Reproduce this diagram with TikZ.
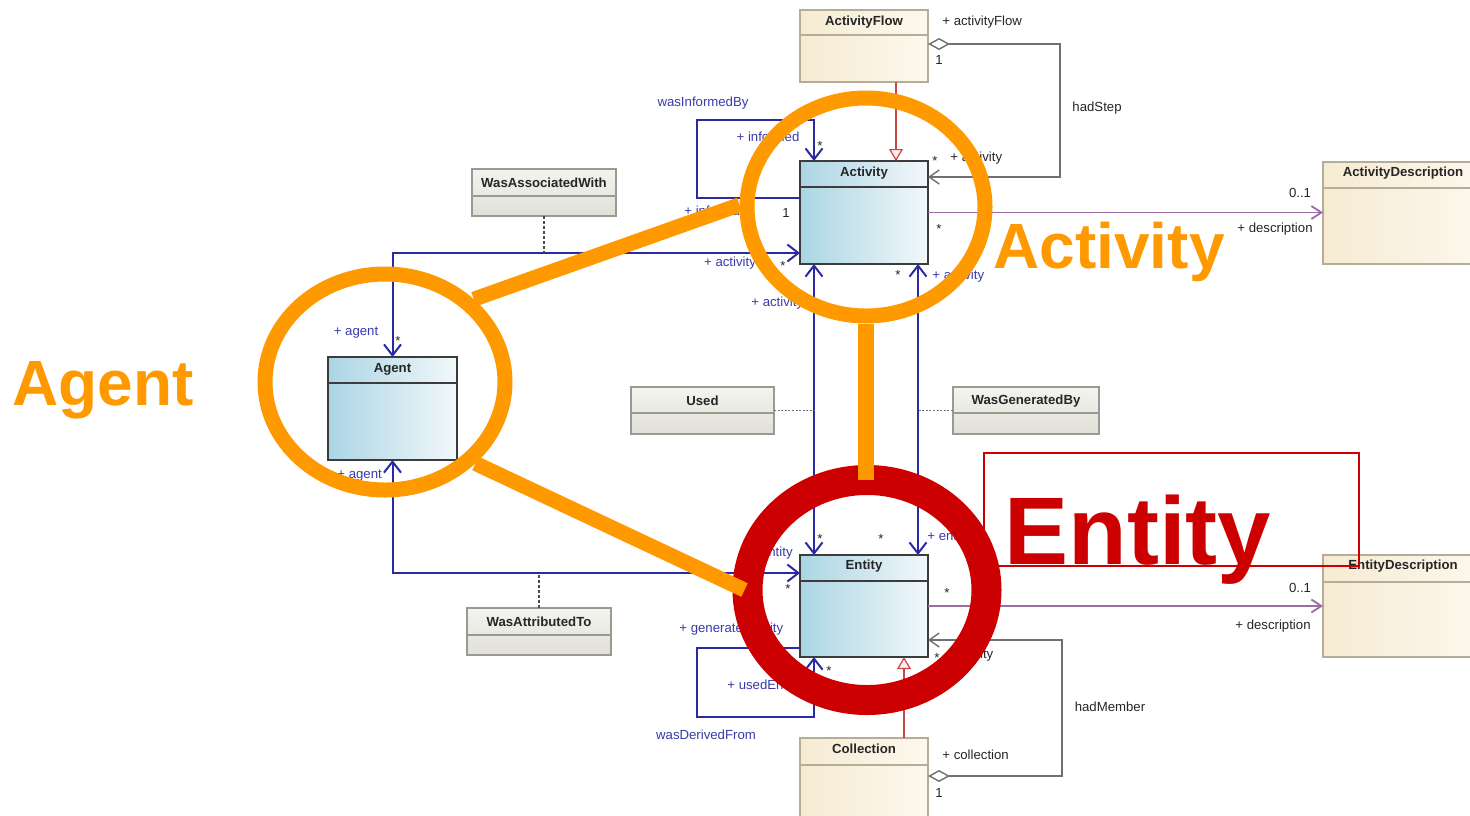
\documentclass[tikz,border=0pt]{standalone}
\usepackage{fontspec}
\setmainfont{Liberation Sans}
\usetikzlibrary{arrows.meta, calc, positioning, shapes.geometric}

\definecolor{ovorange}{HTML}{FF9900}
\definecolor{ovred}{HTML}{CC0000}
\definecolor{assocblue}{HTML}{2A2AA6}
\definecolor{lblblue}{HTML}{3A3AAA}
\definecolor{aggray}{HTML}{707070}
\definecolor{descpurple}{HTML}{9C6CA4}
\definecolor{genred}{HTML}{C84848}
\definecolor{clsedge}{HTML}{3C3C3C}
\definecolor{creamedge}{HTML}{B5AD98}
\definecolor{grayedge}{HTML}{9A9A92}
\definecolor{clsL}{HTML}{ABD5E4}
\definecolor{clsR}{HTML}{F2F8FA}
\definecolor{creamL}{HTML}{F6EBD2}
\definecolor{creamR}{HTML}{FDF8EE}
\definecolor{grayT}{HTML}{F4F4F0}
\definecolor{grayB}{HTML}{E0E0D8}

\begin{document}
\begin{tikzpicture}[x=0.5pt, y=-0.5pt,
    box/.style={rectangle, anchor=north west, inner sep=0pt, outer sep=0pt, line width=0.7pt},
    bluecls/.style={box, draw=clsedge, left color=clsL, right color=clsR},
    creamcls/.style={box, draw=creamedge, left color=creamL, right color=creamR},
    graycls/.style={box, draw=grayedge, top color=grayT, bottom color=grayB},
    title/.style={font=\bfseries\fontsize{6.6}{8}\selectfont, text=black!85, inner sep=0pt},
    lbl/.style={font=\fontsize{6.6}{8}\selectfont, inner sep=0pt, text=black!85},
    bluelbl/.style={lbl, text=lblblue},
    assocline/.style={draw=assocblue, line width=1pt},
    barb/.tip={Straight Barb[length=5.5pt, width=8.5pt]},
    aggline/.style={draw=aggray, line width=0.7pt,
      {Diamond[open, fill=white, length=11pt, width=6pt]}-{Straight Barb[length=5pt, width=7pt]}},
    genline/.style={draw=genred, line width=0.6pt, -{Triangle[open, fill=red!8, length=6pt, width=7pt]}},
    descline/.style={draw=descpurple, line width=0.9pt, -{Straight Barb[length=5pt, width=6.5pt]}},
    dashlink/.style={draw=black!70, line width=0.6pt, dash pattern=on 1.5pt off 1pt},
    dotlink/.style={draw=black!55, line width=0.7pt, dash pattern=on 1pt off 0.8pt},
    ring/.style={ellipse, inner sep=0pt},
    ovline/.style={draw=ovorange, line width=7.5pt},
    bigtext/.style={font=\bfseries\fontsize{32}{36}\selectfont, anchor=base west, inner sep=0pt}
  ]

  \clip (0,0) rectangle (1470,815);
  \fill[white] (0,0) rectangle (1470,815);

  % classes
  \node[creamcls, minimum width=64pt, minimum height=36pt] (flow) at (800,10) {};
  \node[bluecls, minimum width=64pt, minimum height=51.5pt] (act) at (800,161) {};
  \node[bluecls, minimum width=64.5pt, minimum height=51.5pt] (agent) at (328,357) {};
  \node[bluecls, minimum width=64pt, minimum height=51pt] (ent) at (800,555) {};
  \node[creamcls, minimum width=64pt, minimum height=50pt] (coll) at (800,738) {};
  \node[creamcls, minimum width=80pt, minimum height=51pt] (actdesc) at (1323,162) {};
  \node[creamcls, minimum width=80pt, minimum height=51pt] (entdesc) at (1323,555) {};

  % association classes
  \node[graycls, minimum width=72pt, minimum height=23.5pt] (assoc) at (472,169) {};
  \node[graycls, minimum width=71.5pt, minimum height=23.5pt] (used) at (631,387) {};
  \node[graycls, minimum width=73pt, minimum height=23.5pt] (gen) at (953,387) {};
  \node[graycls, minimum width=72pt, minimum height=23.5pt] (attr) at (467,608) {};

  % header lines and names
  \foreach \b/\d/\c in {flow/25/creamedge, act/26/clsedge, agent/26/clsedge, ent/26/clsedge,
      coll/27/creamedge, actdesc/26/creamedge, entdesc/27/creamedge,
      assoc/27/grayedge, used/26/grayedge, gen/26/grayedge, attr/27/grayedge}
    \draw[\c, line width=0.7pt] ($(\b.north west)+(0,\d)$) -- ($(\b.north east)+(0,\d)$);

  \foreach \b/\d/\t in {flow/12/ActivityFlow, act/12/Activity, agent/12/Agent, ent/11/Entity,
      coll/11/Collection, actdesc/11/ActivityDescription, entdesc/11/EntityDescription,
      assoc/14/WasAssociatedWith, used/14/Used, gen/14/WasGeneratedBy, attr/14/WasAttributedTo}
    \node[title] (\b-t) at ($(\b.north)+(0,\d)$) {\t};

  % wasAssociatedWith / wasAttributedTo
  \coordinate (wawA) at ($(act.north west)+(0,92)$);
  \coordinate (watE) at ($(ent.north west)+(0,18)$);
  \draw[assocline, barb-barb] (wawA) -| (agent.north);
  \draw[assocline, barb-barb] (watE) -| (agent.south);
  \draw[dashlink] (assoc.south) -- (assoc.south |- wawA);
  \draw[dashlink] (attr.north) -- (attr.north |- watE);

  % used / wasGeneratedBy
  \coordinate (usedA) at ($(act.south west)+(14,0)$);
  \coordinate (usedE) at ($(ent.north west)+(14,0)$);
  \coordinate (genA) at ($(act.south east)+(-10,0)$);
  \coordinate (genE) at ($(ent.north east)+(-10,0)$);
  \draw[assocline, barb-barb] (usedA) -- (usedE);
  \draw[assocline, barb-barb] (genA) -- (genE);
  \draw[dotlink] (used.east) -- (used.east -| usedA);
  \draw[dotlink] (gen.west) -- (gen.west -| genA);

  % self loops
  \draw[assocline, -barb] ($(act.north west)+(0,37)$) -- ++(-103,0) -- ++(0,-78) -| ($(act.north west)+(14,0)$);
  \draw[assocline, -barb] ($(ent.north west)+(0,93)$) -- ++(-103,0) -- ++(0,69) -| ($(ent.south west)+(14,0)$);

  % hadStep / hadMember
  \draw[aggline] ($(flow.north east)+(0,34)$) -- ++(132,0) |- ($(act.north east)+(0,16)$);
  \draw[aggline] ($(coll.north east)+(0,38)$) -- ++(134,0) |- ($(ent.north east)+(0,85)$);

  % generalisation
  \draw[genline] ($(flow.south east)+(-32,0)$) -- ($(act.north east)+(-32,0)$);
  \draw[genline] ($(coll.north east)+(-24,0)$) -- ($(ent.south east)+(-24,0)$);

  % descriptions
  \draw[descline] (act.east) -- (act.east -| actdesc.west);
  \draw[descline] (ent.east) -- (ent.east -| entdesc.west);

  % role names
  \foreach \n/\p/\a/\t in {b1/{703,103}/center/wasInformedBy, b2/{768,137}/center/{+ informed},
      b3/{684,211}/west/{+ informant}, b4/{730,263}/center/{+ activity}, b5/{356,333}/center/{+ agent},
      b6/{751,303}/west/{+ activity}, b7/{932,276}/west/{+ activity}, b8/{927,537}/west/{+ entity},
      b9/{793,553}/east/{+ entity}, b10/{337,476}/west/{+ agent}, b11/{679,629}/west/{+ generatedEntity},
      b12/{727,686}/west/{+ usedEntity}, b13/{706,735}/center/wasDerivedFrom}
    \node[bluelbl, anchor=\a] (\n) at (\p) {\t};

  \foreach \n/\p/\a/\t in {k1/{942,22}/west/{+ activityFlow}, k2/{939,60}/center/1, k3/{1097,108}/center/hadStep,
      k4/{950,158}/west/{+ activity}, k5/{786,213}/center/1, k6/{1300,193}/center/0..1,
      k7/{1275,229}/center/{+ description}, k8/{1300,588}/center/0..1, k9/{1273,626}/center/{+ description},
      k10/{950,655}/west/{+ entity}, k11/{1110,707}/center/hadMember, k12/{942,755}/west/{+ collection},
      k13/{939,793}/center/1}
    \node[lbl, anchor=\a] (\n) at (\p) {\t};

  % multiplicities
  \foreach \n/\p in {m1/{935,161}, m2/{820,146}, m3/{783,266}, m4/{398,341}, m5/{898,275}, m6/{820,539},
      m7/{881,539}, m8/{788,589}, m9/{829,671}, m10/{939,229}, m11/{947,593}, m12/{937,658}}
    \node[lbl] (\n) at (\p) {*};

  % highlights
  \node[ring, draw=ovred, line width=15pt, minimum width=119.5pt, minimum height=110pt] (entRing) at (867,590) {};
  \draw[ovred, line width=0.75pt] (984,453) rectangle (1359,566);
  \node[ring, draw=ovorange, line width=7.5pt, minimum width=119pt, minimum height=109pt] (actRing) at (866,207) {};
  \node[ring, draw=ovorange, line width=7.5pt, minimum width=120pt, minimum height=108pt] (agentRing) at (385,382) {};
  \draw[ovline] (agentRing.43) -- (actRing.179);
  \draw[ovline] (agentRing.-42) -- ($(entRing.west)+(12,0)$);
  \draw[ovline, line width=8pt] (actRing.south) -- ($(actRing.south |- entRing.north)+(0,15)$);

  \node[bigtext, text=ovorange] (actTxt) at (993,268) {Activity};
  \node[bigtext, text=ovorange] (agentTxt) at (12,405) {Agent};
  \node[bigtext, text=ovred, font=\bfseries\fontsize{48}{52}\selectfont] (entTxt) at (1004,564) {Entity};

\end{tikzpicture}
\end{document}
